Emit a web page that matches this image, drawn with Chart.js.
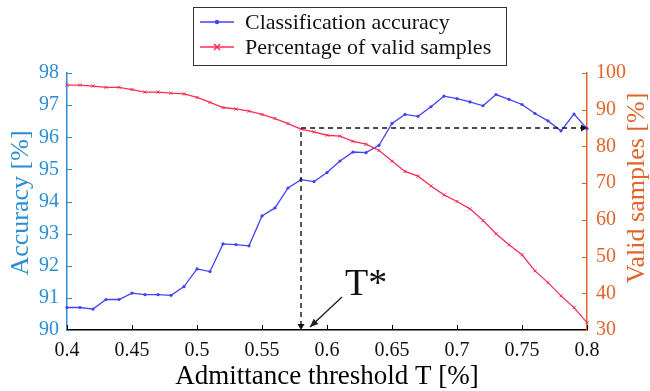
<!DOCTYPE html>
<html><head><meta charset="utf-8">
<script src="https://cdn.jsdelivr.net/npm/chart.js@4/dist/chart.umd.min.js"></script>
<style>html,body{margin:0;padding:0;background:#fff}canvas{display:block}</style>
</head><body>
<canvas id="c" width="650" height="391"></canvas>
<script>
const thresholds = [0.40,0.41,0.42,0.43,0.44,0.45,0.46,0.47,0.48,0.49,
  0.50,0.51,0.52,0.53,0.54,0.55,0.56,0.57,0.58,0.59,
  0.60,0.61,0.62,0.63,0.64,0.65,0.66,0.67,0.68,0.69,
  0.70,0.71,0.72,0.73,0.74,0.75,0.76,0.77,0.78,0.79,0.80];
const accuracy = [90.70,90.70,90.65,90.95,90.95,91.15,91.10,91.10,91.08,91.35,
  91.90,91.82,92.68,92.66,92.62,93.55,93.80,94.42,94.68,94.62,
  94.90,95.26,95.54,95.52,95.75,96.43,96.71,96.65,96.95,97.28,
  97.20,97.10,96.98,97.33,97.18,97.02,96.74,96.51,96.20,96.72,96.27];
const validSamples = [96.7,96.7,96.45,96.1,96.1,95.5,94.8,94.8,94.5,94.3,
  93.35,92.0,90.6,90.2,89.6,88.7,87.6,86.2,84.7,83.95,
  83.05,82.8,81.4,80.6,78.9,76.0,73.2,71.9,69.2,66.8,
  65.0,63.0,59.8,56.2,53.2,50.5,46.1,42.9,39.3,36.1,32.0];
const xTicks = [0.4,0.45,0.5,0.55,0.6,0.65,0.7,0.75,0.8];
const accTicks = [90,91,92,93,94,95,96,97,98];
const validTicks = [30,40,50,60,70,80,90,100];
const seriesNames = ["Classification accuracy","Percentage of valid samples"];
const xTitle = "Admittance threshold T [%]";
const yLeftTitle = "Accuracy [%]";
const yRightTitle = "Valid samples [%]";
const tStar = 0.58;
const tStarLevel = 85;
const tStarLabel = "T*";

const FONT = "'Liberation Serif','Times New Roman',serif";
const BLUE_AX = '#2a8ed4';
const ORANGE_AX = '#e0652b';
const BLUE_LN = '#4343f5';
const RED_LN = '#ff2d55';

const deco = {
  id: 'deco',
  afterDraw(chart) {
    const ctx = chart.ctx;
    const {left, right, top, bottom} = chart.chartArea;
    const sx = chart.scales.x, sl = chart.scales.yL, sr = chart.scales.yR;
    ctx.save();
    // inward ticks
    ctx.lineWidth = 1;
    ctx.strokeStyle = '#000';
    xTicks.forEach(v => { const p = Math.round(sx.getPixelForValue(v)) + 0.5;
      ctx.beginPath(); ctx.moveTo(p, bottom); ctx.lineTo(p, bottom - 5); ctx.stroke(); });
    ctx.strokeStyle = BLUE_AX;
    accTicks.forEach(v => { const p = Math.round(sl.getPixelForValue(v)) + 0.5;
      ctx.beginPath(); ctx.moveTo(left, p); ctx.lineTo(left + 5, p); ctx.stroke(); });
    ctx.strokeStyle = ORANGE_AX;
    validTicks.forEach(v => { const p = Math.round(sr.getPixelForValue(v)) + 0.5;
      ctx.beginPath(); ctx.moveTo(right, p); ctx.lineTo(right - 5, p); ctx.stroke(); });

    // axis titles
    ctx.textAlign = 'center'; ctx.textBaseline = 'middle';
    ctx.font = '26px ' + FONT;
    ctx.fillStyle = BLUE_AX;
    ctx.save(); ctx.translate(21, 203); ctx.rotate(-Math.PI/2); ctx.fillText(yLeftTitle, 0, 0); ctx.restore();
    ctx.fillStyle = ORANGE_AX;
    ctx.save(); ctx.translate(637, 188); ctx.rotate(-Math.PI/2); ctx.fillText(yRightTitle, 0, 0); ctx.restore();
    ctx.fillStyle = '#000';
    ctx.font = '27px ' + FONT;
    ctx.fillText(xTitle, (left + right) / 2, 377);

    // dashed T* guides
    const xp = sx.getPixelForValue(tStar);
    const yp = sr.getPixelForValue(tStarLevel);
    const xe = sx.getPixelForValue(thresholds[thresholds.length - 1]);
    ctx.strokeStyle = '#111'; ctx.lineWidth = 1.4; ctx.setLineDash([5, 4]);
    ctx.beginPath(); ctx.moveTo(xp, bottom - 4); ctx.lineTo(xp, yp); ctx.lineTo(xe - 4, yp); ctx.stroke();
    ctx.setLineDash([]);
    ctx.fillStyle = '#111';
    ctx.beginPath(); ctx.moveTo(xp, bottom); ctx.lineTo(xp - 3.5, bottom - 6); ctx.lineTo(xp + 3.5, bottom - 6); ctx.closePath(); ctx.fill();
    ctx.beginPath(); ctx.moveTo(xe, yp); ctx.lineTo(xe - 6, yp - 3.5); ctx.lineTo(xe - 6, yp + 3.5); ctx.closePath(); ctx.fill();

    // T* arrow
    const tx = xp + 9, ty = bottom - 3, fx = xp + 41, fy = bottom - 33;
    ctx.strokeStyle = '#222'; ctx.lineWidth = 1.4;
    ctx.beginPath(); ctx.moveTo(fx, fy); ctx.lineTo(tx, ty); ctx.stroke();
    const ang = Math.atan2(ty - fy, tx - fx);
    ctx.beginPath(); ctx.moveTo(tx, ty);
    ctx.lineTo(tx - 9 * Math.cos(ang - 0.4), ty - 9 * Math.sin(ang - 0.4));
    ctx.lineTo(tx - 9 * Math.cos(ang + 0.4), ty - 9 * Math.sin(ang + 0.4));
    ctx.closePath(); ctx.fillStyle = '#222'; ctx.fill();
    ctx.fillStyle = '#111'; ctx.font = '38px ' + FONT; ctx.textAlign = 'left'; ctx.textBaseline = 'alphabetic';
    ctx.fillText(tStarLabel, xp + 44, bottom - 35);

    // legend
    const bx = 193, by = 7, bw = 313, bh = 58;
    ctx.fillStyle = '#fff'; ctx.fillRect(bx, by, bw, bh);
    ctx.strokeStyle = '#333'; ctx.lineWidth = 1; ctx.strokeRect(bx + 0.5, by + 0.5, bw, bh);
    const rows = [by + 15, by + 40];
    const cols = [BLUE_LN, RED_LN];
    rows.forEach((ry, i) => {
      ctx.strokeStyle = cols[i]; ctx.lineWidth = 1.5;
      ctx.beginPath(); ctx.moveTo(200, ry); ctx.lineTo(234, ry); ctx.stroke();
      if (i === 0) { ctx.fillStyle = cols[i]; ctx.beginPath(); ctx.arc(217, ry, 2.2, 0, Math.PI*2); ctx.fill(); }
      else { ctx.beginPath(); ctx.moveTo(214, ry-3); ctx.lineTo(220, ry+3); ctx.moveTo(220, ry-3); ctx.lineTo(214, ry+3); ctx.stroke(); }
      ctx.fillStyle = '#111'; ctx.font = '22px ' + FONT; ctx.textAlign = 'left'; ctx.textBaseline = 'middle';
      ctx.fillText(seriesNames[i], 245, ry + 1);
    });
    ctx.restore();
  }
};

new Chart(document.getElementById('c'), {
  type: 'line',
  data: {
    datasets: [
      { label: seriesNames[0], data: thresholds.map((x, i) => ({x, y: accuracy[i]})), yAxisID: 'yL',
        borderColor: BLUE_LN, backgroundColor: BLUE_LN, borderWidth: 1.3, pointRadius: 1.6,
        pointStyle: 'circle', pointBorderWidth: 0, tension: 0, clip: false, order: 1 },
      { label: seriesNames[1], data: thresholds.map((x, i) => ({x, y: validSamples[i]})), yAxisID: 'yR',
        borderColor: RED_LN, backgroundColor: RED_LN, borderWidth: 1.3, pointRadius: 2.2,
        pointStyle: 'crossRot', pointBorderWidth: 1, tension: 0, clip: false, order: 0 }
    ]
  },
  options: {
    responsive: false, animation: false, devicePixelRatio: 1,
    events: [],
    layout: { padding: { top: 73, left: 0, right: 0, bottom: 0 } },
    plugins: { legend: { display: false }, tooltip: { enabled: false } },
    scales: {
      x: { type: 'linear', min: 0.4, max: 0.8,
        afterBuildTicks: s => { s.ticks = xTicks.map(v => ({value: v})); },
        afterFit: s => { s.height = 61; },
        ticks: { font: { family: FONT, size: 20 }, color: '#111', padding: 9, maxRotation: 0, autoSkip: false,
          callback: v => String(v) },
        grid: { display: true, drawOnChartArea: false, drawTicks: false },
        border: { display: true, color: '#000', width: 1.5 } },
      yL: { type: 'linear', position: 'left', min: 90, max: 98,
        afterBuildTicks: s => { s.ticks = accTicks.map(v => ({value: v})); },
        afterFit: s => { s.width = 67; },
        ticks: { font: { family: FONT, size: 20 }, color: BLUE_AX, padding: 8, autoSkip: false },
        grid: { display: true, drawOnChartArea: false, drawTicks: false },
        border: { display: true, color: BLUE_AX, width: 1.5 } },
      yR: { type: 'linear', position: 'right', min: 30, max: 100,
        afterBuildTicks: s => { s.ticks = validTicks.map(v => ({value: v})); },
        afterFit: s => { s.width = 63; },
        ticks: { font: { family: FONT, size: 20 }, color: ORANGE_AX, padding: 9, autoSkip: false },
        grid: { display: true, drawOnChartArea: false, drawTicks: false },
        border: { display: true, color: ORANGE_AX, width: 1.5 } }
    }
  },
  plugins: [deco]
});
</script>
</body></html>
